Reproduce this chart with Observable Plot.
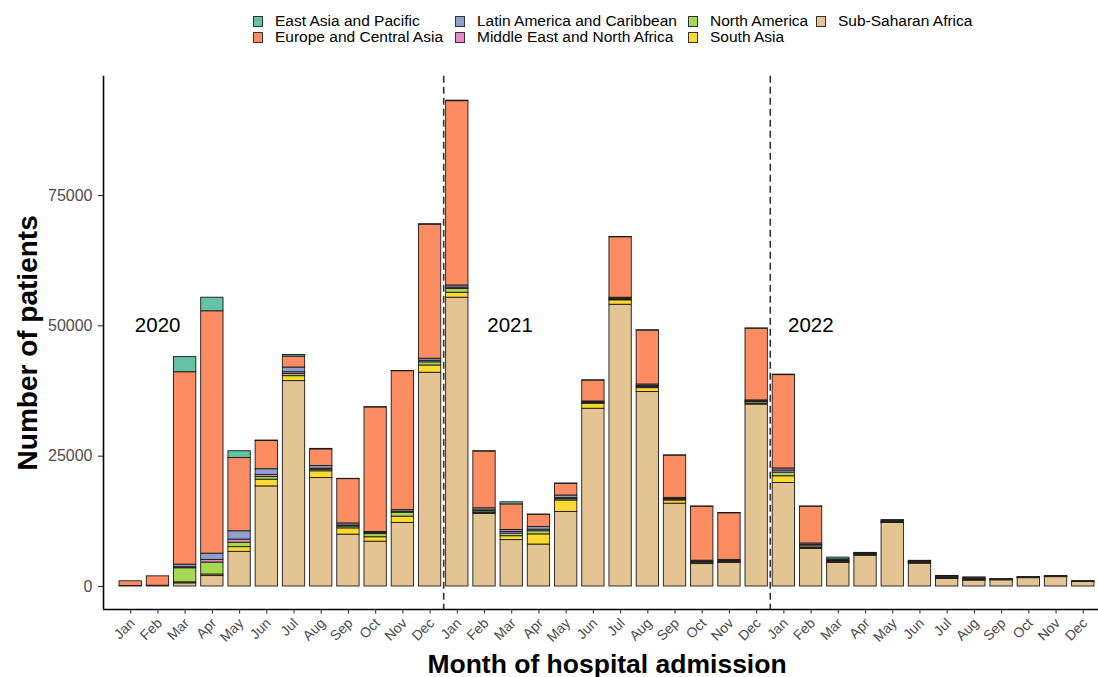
<!DOCTYPE html>
<html><head><meta charset="utf-8">
<script src="https://cdn.jsdelivr.net/npm/d3@7"></script>
<script src="https://cdn.jsdelivr.net/npm/@observablehq/plot@0.6"></script>
<style>
body{margin:0;background:#fff;font-family:"Liberation Sans",Arial,sans-serif;overflow:hidden}
#legend{position:relative;height:50px;width:1098px}
.item{position:absolute;display:flex;align-items:center;font-size:15.5px;color:#000;line-height:16px;white-space:nowrap}
.key{width:10px;height:11px;border:1px solid #333;margin-right:12px;box-sizing:border-box}
#chart svg{display:block}
</style></head><body>
<div id="legend"></div><div id="chart"></div>
<script>
const monthNames = ["Jan","Feb","Mar","Apr","May","Jun","Jul","Aug","Sep","Oct","Nov","Dec"];
const years = ["2020","2021","2022"];
const regions = ["East Asia and Pacific","Europe and Central Asia","Latin America and Caribbean","Middle East and North Africa","North America","South Asia","Sub-Saharan Africa"];
const regionColors = ["#66C2A5","#FC8D62","#8DA0CB","#E78AC3","#A6D854","#FFD92F","#E5C494"];

// monthly patients, Jan 2020 .. Dec 2022
const eastAsiaPacific = [0,0,2900,2600,1300,100,300,100,50,50,50,100, 100,50,400,50,50,50,50,50,50,50,50,50, 100,50,350,50,50,50,50,50,20,20,20,10];
const europeCentralAsia = [900,1800,36900,46500,14050,5400,2100,3200,8500,23900,26650,25700, 35350,10900,4900,2350,2250,4000,11600,10350,8100,10350,8950,13750, 17900,7050,200,150,200,200,200,250,100,100,100,100];
const latinAmerica = [0,0,500,1200,1600,1100,900,500,400,200,300,400, 400,400,400,500,500,200,200,300,200,200,200,200, 400,300,150,100,100,100,100,100,30,30,30,10];
const middleEastNorthAfrica = [0,0,200,500,600,400,350,200,200,200,200,300, 250,200,300,300,200,100,150,200,100,100,200,100, 400,250,200,50,100,100,100,100,20,20,20,10];
const northAmerica = [0,0,2700,2300,850,500,400,300,350,600,750,600, 750,300,500,600,250,150,150,200,200,100,100,300, 700,300,50,100,30,30,50,30,20,10,10,10];
const southAsia = [0,0,200,300,900,1300,950,1300,1200,850,1200,1400, 950,200,750,1950,2200,950,850,750,600,250,50,200, 1300,200,50,100,50,50,50,50,20,20,20,20];
const subSaharanAfrica = [100,150,600,2000,6650,19200,39400,20800,9950,8600,12200,41000, 55400,13900,8900,8050,14300,34100,54050,37300,15900,4300,4550,34900, 19850,7200,4550,5900,12200,4400,1480,1150,1200,1600,1800,850];

const yTicks = [0,25000,50000,75000];

const seriesByRegion = {
  "East Asia and Pacific": eastAsiaPacific,
  "Europe and Central Asia": europeCentralAsia,
  "Latin America and Caribbean": latinAmerica,
  "Middle East and North Africa": middleEastNorthAfrica,
  "North America": northAmerica,
  "South Asia": southAsia,
  "Sub-Saharan Africa": subSaharanAfrica
};
const months = years.flatMap(y => monthNames.map(m => ({year: y, month: m})));
const stackOrder = regions.slice().reverse(); // bottom to top
const rows = [];
months.forEach((m, i) => {
  let acc = 0;
  for (const r of stackOrder) {
    const v = seriesByRegion[r][i];
    if (v > 0) rows.push({i, region: r, y1: acc, y2: acc + v});
    acc += v;
  }
});

// legend
const legend = document.getElementById("legend");
const colX = [253, 455, 688, 816];
const rowY = [13, 29];
regions.forEach((r, k) => {
  const d = document.createElement("div");
  d.className = "item";
  d.style.left = colX[Math.floor(k / 2)] + "px";
  d.style.top = rowY[k % 2] + "px";
  d.innerHTML = `<span class="key" style="background:${regionColors[k]}"></span><span>${r}</span>`;
  legend.appendChild(d);
});

const yearStarts = years.map(y => months.findIndex(m => m.year === y));
const yMin = -4412, yMax = 97890;
const tickIdx = d3.range(months.length);

const chart = Plot.plot({
  width: 1098, height: 627,
  marginLeft: 103, marginRight: 0, marginTop: 25.7, marginBottom: 68,
  x: {type: "linear", domain: [-1, 35.56], axis: null},
  y: {domain: [yMin, yMax], axis: null},
  color: {domain: regions, range: regionColors},
  style: {fontFamily: "Liberation Sans, Arial, sans-serif", background: "white", overflow: "visible"},
  marks: [
    Plot.rect(rows, {x1: d => d.i - 0.41, x2: d => d.i + 0.41, y1: "y1", y2: "y2", fill: "region", stroke: "#1a1a1a", strokeWidth: 0.9}),
    Plot.ruleX(yearStarts.slice(1).map(s => s - 0.5), {stroke: "#333", strokeWidth: 1.6, strokeDasharray: "7,4"}),
    Plot.text(years, {x: (d, k) => [0.99, 13.94, 24.99][k], y: 50000, text: d => d, fontSize: 20.5, fill: "black"}),
    Plot.ruleX([-1], {stroke: "black", strokeWidth: 1.6}),
    Plot.ruleY([yMin], {stroke: "black", strokeWidth: 1.6}),
    // x ticks and labels
    Plot.axisX(tickIdx, {tickFormat: () => "", tickSize: 4.5, stroke: "#333", strokeWidth: 1.1, label: null}),
    Plot.text(tickIdx, {x: d => d, frameAnchor: "bottom", text: i => months[i].month, rotate: -45, textAnchor: "end", dx: 5, dy: 14.5, fontSize: 14, fill: "#4d4d4d"}),
    // y ticks and labels
    Plot.axisY(yTicks, {tickFormat: () => "", tickSize: 5, stroke: "#333", strokeWidth: 1.1, label: null}),
    Plot.text(yTicks, {y: d => d, frameAnchor: "left", text: d => String(d), textAnchor: "end", dx: -11, fontSize: 16, fill: "#4d4d4d"}),
    Plot.text(["Month of hospital admission"], {frameAnchor: "bottom", dx: 6, dy: 63, fontSize: 26.5, fontWeight: "bold", fill: "black"}),
    Plot.text(["Number of patients"], {frameAnchor: "left", textAnchor: "middle", dx: -75, rotate: -90, fontSize: 28, fontWeight: "bold", fill: "black"})
  ]
});
document.getElementById("chart").appendChild(chart);
</script>
</body></html>
